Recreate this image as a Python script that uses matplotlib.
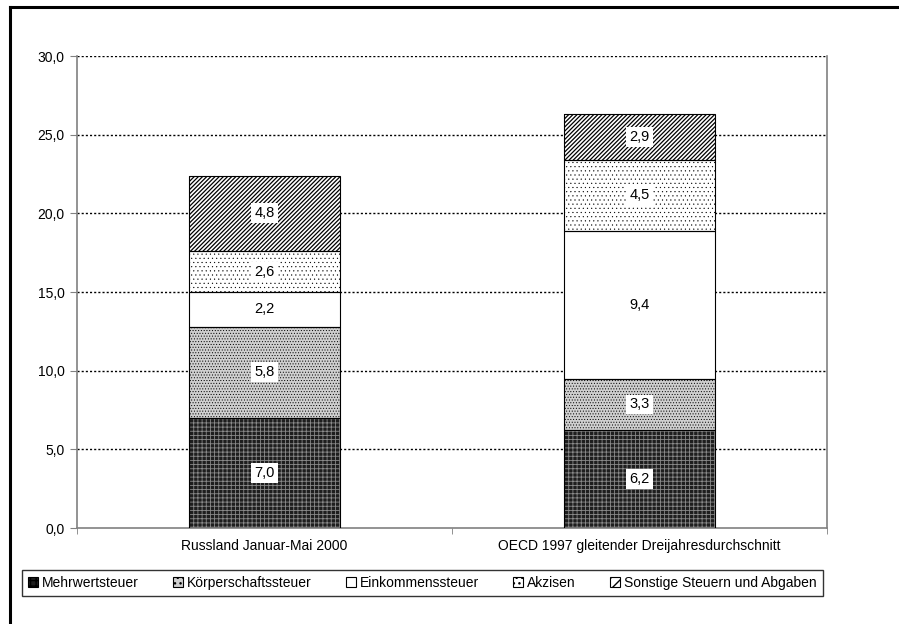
import numpy as np
import matplotlib
matplotlib.use("Agg")
import matplotlib.pyplot as plt
from matplotlib.patches import Patch
from matplotlib.lines import Line2D

# Daten (Anteil am BIP in %)
laender = ["Russland Januar-Mai 2000", "OECD 1997 gleitender Dreijahresdurchschnitt"]
steuern = ["Mehrwertsteuer", "Körperschaftssteuer", "Einkommenssteuer", "Akzisen",
           "Sonstige Steuern und Abgaben"]
werte = {
    "Mehrwertsteuer": [7.0, 6.2],
    "Körperschaftssteuer": [5.8, 3.3],
    "Einkommenssteuer": [2.2, 9.4],
    "Akzisen": [2.6, 4.5],
    "Sonstige Steuern und Abgaben": [4.8, 2.9],
}
yticks = [0, 5, 10, 15, 20, 25, 30]

# Fuellmuster: (Flaeche, Schraffur, Schraffurfarbe, Schraffurbreite)
muster = {
    "Mehrwertsteuer": ("#1e1e1e", "++++", "#8a8a8a", 0.6),
    "Körperschaftssteuer": ("#cfcfcf", "......", "#000000", 0.4),
    "Einkommenssteuer": ("#ffffff", "", "#000000", 0.5),
    "Akzisen": ("#ffffff", "....", "#000000", 0.3),
    "Sonstige Steuern und Abgaben": ("#ffffff", "////////", "#000000", 0.9),
}

plt.rcParams['font.family'] = ['Liberation Sans', 'DejaVu Sans']

fig = plt.figure(figsize=(8.99, 6.24), dpi=100)
ax = fig.add_axes([77 / 899, 1 - 528 / 624, 750 / 899, 472 / 624])

x = np.arange(len(laender))
breite = 0.405
unten = np.zeros(len(laender))
for s in steuern:
    v = np.array(werte[s])
    fc, hatch, hc, hlw = muster[s]
    with plt.rc_context({'hatch.linewidth': hlw}):
        ax.bar(x, v, breite, bottom=unten, facecolor=fc, edgecolor=hc,
               hatch=hatch, linewidth=0, zorder=2)
    ax.bar(x, v, breite, bottom=unten, facecolor='none', edgecolor='black',
           linewidth=0.8, zorder=3)
    for xi, vi, bi in zip(x, v, unten):
        ax.text(xi, bi + vi / 2, f"{vi:.1f}".replace('.', ','), ha='center', va='center',
                fontsize=10.5, zorder=4,
                bbox=dict(boxstyle='square,pad=0.2', facecolor='white', edgecolor='none'))
    unten += v

ax.set_xlim(-0.5, 1.5)
ax.set_ylim(0, 30)
ax.set_yticks(yticks)
ax.set_yticklabels([f"{t:.1f}".replace('.', ',') for t in yticks], fontsize=10)
ax.set_xticks(x)
ax.set_xticklabels(laender, fontsize=10)
ax.tick_params(axis='x', length=0, pad=8)
ax.set_xticks([-0.5, 0.5, 1.5], minor=True)
ax.tick_params(axis='x', which='minor', length=4, color='#808080')
ax.tick_params(axis='y', length=5, color='#808080', pad=4)

for t in yticks[1:]:
    ax.axhline(t, color='black', linestyle=(0, (1.5, 1.5)), linewidth=1.0, zorder=1)

ax.spines['top'].set_visible(False)
for sp in ['left', 'bottom', 'right']:
    ax.spines[sp].set_color('#808080')
    ax.spines[sp].set_linewidth(1.2)

handles = []
for s in steuern:
    fc, hatch, hc, hlw = muster[s]
    handles.append(Patch(facecolor=fc, edgecolor='black', hatch=hatch[:3], linewidth=0.8))
leg = fig.legend(handles, steuern, loc='center', ncol=5, mode='expand',
                 bbox_to_anchor=(22 / 899, 1 - 597 / 624, 801 / 899, 28 / 624),
                 fontsize=10, handlelength=0.7, handleheight=0.7, handletextpad=0.3,
                 borderaxespad=0, fancybox=False, frameon=True, borderpad=0.45)
leg.get_frame().set_edgecolor('black')
leg.get_frame().set_linewidth(1.0)

# aeusserer Rahmen
fig.add_artist(Line2D([10 / 899, 1], [1 - 7 / 624, 1 - 7 / 624], color='black',
                      linewidth=2.2, transform=fig.transFigure))
fig.add_artist(Line2D([10 / 899, 10 / 899], [0, 1 - 7 / 624], color='black',
                      linewidth=2.2, transform=fig.transFigure))

fig.savefig("out.png", dpi=100)
